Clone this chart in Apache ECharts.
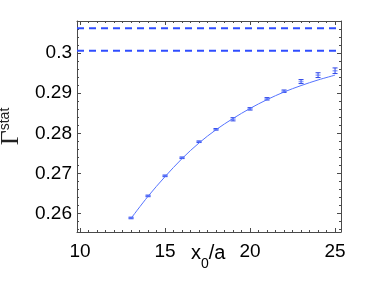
<!DOCTYPE html>
<html><head><meta charset="utf-8">
<script src="https://cdn.jsdelivr.net/npm/echarts@6/dist/echarts.min.js"></script>
<style>html,body{margin:0;padding:0;background:#fff}#c{width:376px;height:282px}</style>
</head><body><div id="c"></div>
<script>
var xValues = [13, 14, 15, 16, 17, 18, 19, 20, 21, 22, 23, 24, 25];
var yValues = [0.2589, 0.2644, 0.2694, 0.2739, 0.2779, 0.2810, 0.2835, 0.2861, 0.2886, 0.2905, 0.2929, 0.2945, 0.2956];
var yErrors = [0.0002, 0.0002, 0.0002, 0.0002, 0.0002, 0.0002, 0.0004, 0.0003, 0.0003, 0.0003, 0.0005, 0.0006, 0.0007];
var fitValues = [0.2588, 0.2643, 0.2692, 0.2737, 0.2776, 0.2809, 0.2837, 0.2862, 0.2884, 0.2903, 0.2919, 0.2933, 0.2945];
var plateauValues = [0.3062, 0.3006];
var xTickLabels = [10, 15, 20, 25];
var yTickLabels = [0.26, 0.27, 0.28, 0.29, 0.3];

var X_MIN = 9.82, X_MAX = 25.35, Y_MIN = 0.2554, Y_MAX = 0.3080;
var xMinor = [], yMinor = [];
for (var i = 0; i <= 32; i++) { var v = 9.5 + i * 0.5; if (v > X_MIN && v < X_MAX) xMinor.push(v); }
for (var j = 0; j <= 30; j++) { var w = +(0.254 + j * 0.002).toFixed(3); if (w > Y_MIN && w < Y_MAX) yMinor.push(w); }

var font = 'Liberation Sans, Arial, Helvetica, sans-serif';
var frameColor = '#4a4a4a';
var blue = '#2f4dff';

function xAx(pos, ticks, len, showLabel, showLine) {
  return {
    type: 'value', position: pos, min: X_MIN, max: X_MAX,
    axisLine: { show: showLine, onZero: false, lineStyle: { color: frameColor, width: 1 } },
    axisTick: { show: true, inside: true, length: len, customValues: ticks, lineStyle: { color: frameColor, width: 1 } },
    axisLabel: { show: showLabel, customValues: ticks, fontSize: 19, color: '#000', fontFamily: font, margin: 10 },
    splitLine: { show: false }
  };
}
function yAx(pos, ticks, len, showLabel, showLine) {
  return {
    type: 'value', position: pos, min: Y_MIN, max: Y_MAX,
    axisLine: { show: showLine, onZero: false, lineStyle: { color: frameColor, width: 1 } },
    axisTick: { show: true, inside: true, length: len, customValues: ticks, lineStyle: { color: frameColor, width: 1 } },
    axisLabel: { show: showLabel, customValues: ticks, fontSize: 19, color: '#000', fontFamily: font, margin: 5,
      formatter: function (v) { return String(+v.toFixed(3)); } },
    splitLine: { show: false }
  };
}

var xAxes = [xAx('bottom', xTickLabels, 4, true, true), xAx('bottom', xMinor, 2, false, false),
             xAx('top', xTickLabels, 4, false, true), xAx('top', xMinor, 2, false, false)];
var yAxes = [yAx('left', yTickLabels, 4, true, true), yAx('left', yMinor, 2, false, false),
             yAx('right', yTickLabels, 4, false, true), yAx('right', yMinor, 2, false, false)];
yAxes[0].name = '{g|Γ}{s|stat}';
yAxes[0].nameLocation = 'middle';
yAxes[0].nameRotate = 90;
yAxes[0].nameGap = 46;
yAxes[0].nameTextStyle = { rich: {
  g: { fontSize: 26, fontFamily: 'Liberation Serif, DejaVu Serif, serif', color: '#222', verticalAlign: 'bottom', lineHeight: 26 },
  s: { fontSize: 14, fontFamily: font, color: '#222', verticalAlign: 'top', padding: [0, 0, 12, 0], lineHeight: 14 }
} };

var series = [
  {
    type: 'line', xAxisIndex: 0, yAxisIndex: 0, smooth: 0.35, symbol: 'none',
    data: xValues.map(function (x, k) { return [x, fitValues[k]]; }),
    lineStyle: { color: '#5573ff', width: 1 }
  },
  {
    type: 'custom', xAxisIndex: 0, yAxisIndex: 0,
    data: xValues.map(function (x, k) { return [x, yValues[k], yErrors[k]]; }),
    renderItem: function (params, api) {
      var x = api.value(0), y = api.value(1), e = api.value(2);
      var top = api.coord([x, y + e]), bot = api.coord([x, y - e]), mid = api.coord([x, y]);
      var hw = 2.5;
      var st = { stroke: '#2d45e8', lineWidth: 1 };
      return { type: 'group', children: [
        { type: 'line', shape: { x1: top[0], y1: top[1], x2: bot[0], y2: bot[1] }, style: st },
        { type: 'line', shape: { x1: top[0] - hw, y1: top[1], x2: top[0] + hw, y2: top[1] }, style: st },
        { type: 'line', shape: { x1: bot[0] - hw, y1: bot[1], x2: bot[0] + hw, y2: bot[1] }, style: st },
        { type: 'line', shape: { x1: mid[0] - hw, y1: mid[1], x2: mid[0] + hw, y2: mid[1] }, style: { stroke: 'rgba(80,110,255,0.6)', lineWidth: 1.5 } }
      ] };
    }
  }
];
plateauValues.forEach(function (p) {
  series.push({
    type: 'line', xAxisIndex: 0, yAxisIndex: 0, symbol: 'none', silent: true,
    data: [[X_MIN, p], [X_MAX, p]],
    lineStyle: { color: blue, width: 2, type: [7, 5] }
  });
});

var chart = echarts.init(document.getElementById('c'), null, { renderer: 'canvas' });
chart.setOption({
  animation: false,
  title: {
    text: '{n|x}{s|0}{n|/a}', left: 191, top: 243, padding: 0, itemGap: 0,
    textStyle: { fontWeight: 'normal', rich: {
      n: { fontSize: 20, fontFamily: font, fontWeight: 'normal', color: '#000', verticalAlign: 'middle', lineHeight: 20 },
      s: { fontSize: 14, fontFamily: font, fontWeight: 'normal', color: '#000', verticalAlign: 'middle', padding: [22, 0, 0, 0], lineHeight: 14 }
    } }
  },
  grid: { left: 77, right: 35, top: 21, bottom: 50, containLabel: false, outerBoundsMode: 'none' },
  xAxis: xAxes,
  yAxis: yAxes,
  series: series
});
</script></body></html>
